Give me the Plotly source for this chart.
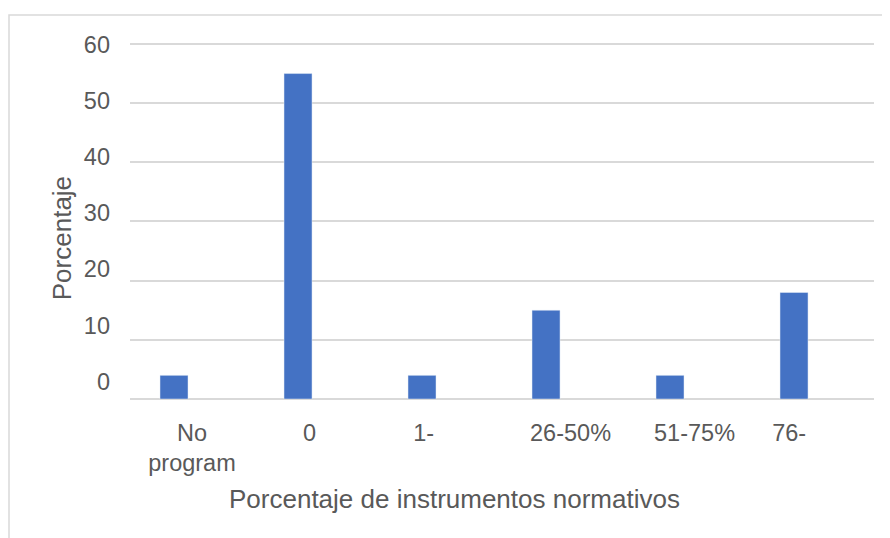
import plotly.graph_objects as go

# Datos
categorias = ["No program", "0", "1-", "26-50%", "51-75%", "76-"]
etiquetas = ["No<br>program", "0", "1-", "26-50%", "51-75%", "76-"]
porcentajes = [4, 55, 4, 15, 4, 18]
ticks_y = [0, 10, 20, 30, 40, 50, 60]

gris = "#595959"
rejilla = "#d9d9d9"
fuente = "Liberation Sans, Arial, sans-serif"

# la pagina tiene ~8px de margen, se compensa en el tamano
ANCHO, ALTO = 882, 530
M_IZQ, M_DER, M_SUP, M_INF = 122, 16, 33, 138.5
W = ANCHO - M_IZQ - M_DER
H = ALTO - M_SUP - M_INF


def px(x, y):
    """pixel de pantalla -> coordenadas paper"""
    return (x - 8 - M_IZQ) / W, (ALTO - M_INF - (y - 8)) / H


# en el original las etiquetas de las categorias no quedan centradas
relleno_der = {"0": 2, "1-": 5, "76-": 7}
relleno_izq = {"26-50%": 2, "51-75%": 2}
texto_x = ["\u00a0" * relleno_izq.get(e, 0) + e + "\u00a0" * relleno_der.get(e, 0)
           for e in etiquetas]

fig = go.Figure()

fig.add_trace(go.Bar(
    x=categorias,
    y=porcentajes,
    marker=dict(color="#4472c4"),
    width=0.226,
    offset=-0.258,
    showlegend=False,
    hoverinfo="x+y",
))

# traza vacia para que se dibuje el eje de etiquetas
fig.add_trace(go.Scatter(x=[], y=[], yaxis="y2", showlegend=False, hoverinfo="skip"))

xt, yt = px(454.5, 500)
xy, yy = px(61.5, 239)
bx, by = px(9, 15)

fig.update_layout(
    width=ANCHO,
    height=ALTO,
    margin=dict(l=M_IZQ, r=M_DER, t=M_SUP, b=M_INF, pad=0),
    plot_bgcolor="white",
    paper_bgcolor="white",
    font=dict(family=fuente, color=gris),
    xaxis=dict(
        type="category",
        tickvals=categorias,
        ticktext=texto_x,
        tickfont=dict(size=23.5, color=gris),
        showgrid=False,
        showline=False,
        zeroline=False,
        ticks="",
        ticklabelstandoff=17,
    ),
    yaxis=dict(
        range=[0, 60.5],
        tickvals=ticks_y,
        showticklabels=False,
        showgrid=True,
        gridcolor=rejilla,
        gridwidth=1.5,
        zeroline=True,
        zerolinecolor=rejilla,
        zerolinewidth=1.5,
        showline=False,
        ticks="",
    ),
    # eje solo para las etiquetas (en la imagen original estan algo desplazadas)
    yaxis2=dict(
        overlaying="y",
        side="left",
        anchor="x",
        range=[-3.11, 60.66],
        tickvals=ticks_y,
        tickfont=dict(size=23.5, color=gris),
        showgrid=False,
        zeroline=False,
        showline=False,
        ticks="",
        ticklabelstandoff=19,
    ),
    shapes=[dict(
        type="rect", xref="paper", yref="paper",
        x0=bx, x1=1.2, y0=-0.6, y1=by,
        line=dict(color=rejilla, width=1.5),
        fillcolor="rgba(0,0,0,0)", layer="below",
    )],
    annotations=[
        dict(text="Porcentaje de instrumentos normativos",
             xref="paper", yref="paper", x=xt, y=yt,
             showarrow=False, font=dict(size=26, color=gris),
             xanchor="center", yanchor="middle"),
        dict(text="Porcentaje", textangle=-90,
             xref="paper", yref="paper", x=xy, y=yy,
             showarrow=False, font=dict(size=26, color=gris),
             xanchor="center", yanchor="middle"),
    ],
)

fig.write_html("out.html")
